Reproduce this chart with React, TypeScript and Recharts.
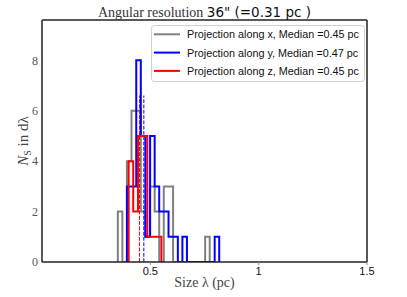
import React from 'react';
import { LineChart, Line, XAxis, YAxis, Legend } from 'recharts';

// ---- data ----
const SERIES_NAMES = [
  'Projection along x, Median =0.45 pc',
  'Projection along y, Median =0.47 pc',
  'Projection along z, Median =0.45 pc',
];
const SERIES_COLORS = ['#808080', '#0000ff', '#ff0000'];

// bin edges (pc) and counts for each step histogram
const GRAY_EDGES = [0.350, 0.371, 0.392, 0.413, 0.435, 0.456, 0.477, 0.498, 0.520, 0.541, 0.562, 0.583, 0.605, 0.626, 0.647, 0.668, 0.689, 0.711, 0.732, 0.753, 0.774];
const GRAY_COUNTS = [2, 0, 4, 6, 6, 2, 1, 3, 2, 0, 3, 3, 0, 0, 0, 0, 0, 0, 0, 1];
const BLUE_EDGES = [0.392, 0.413, 0.435, 0.456, 0.477, 0.499, 0.520, 0.541, 0.563, 0.584, 0.605, 0.627, 0.648, 0.669, 0.690, 0.712, 0.733, 0.754, 0.776, 0.797, 0.818];
const BLUE_COUNTS = [3, 3, 8, 5, 1, 5, 3, 2, 2, 1, 1, 0, 1, 0, 0, 0, 0, 0, 0, 1];
const RED_EDGES = [0.400, 0.421, 0.443, 0.465, 0.486, 0.508, 0.530, 0.551];
const RED_COUNTS = [4, 2, 5, 5, 1, 1, 1];

const MEDIANS = [0.45, 0.47, 0.45];
const MEDIAN_LINE_TOP = 6.6;

const X_DOMAIN = [0, 1.5];
const X_TICKS = [0.5, 1, 1.5];
const Y_DOMAIN = [0, 9.6];
const Y_TICKS = [0, 2, 4, 6, 8];

const TITLE_SERIF = 'Angular resolution ';
const TITLE_SANS = '36" (=0.31 pc )';
const X_LABEL = 'Size \u03bb (pc)';

// ---- helpers ----
function stepPoints(edges: number[], counts: number[]) {
  const pts = [{ x: edges[0], y: 0 }];
  counts.forEach((c, i) => pts.push({ x: edges[i], y: c }));
  const last = edges[edges.length - 1];
  pts.push({ x: last, y: counts[counts.length - 1] });
  pts.push({ x: last, y: 0 });
  return pts;
}

const HISTS = [
  stepPoints(GRAY_EDGES, GRAY_COUNTS),
  stepPoints(BLUE_EDGES, BLUE_COUNTS),
  stepPoints(RED_EDGES, RED_COUNTS),
];
const MEDIAN_DATA = MEDIANS.map((m) => [
  { x: m, y: 0 },
  { x: m, y: MEDIAN_LINE_TOP },
]);

const TitleLabel = () => (
  <text x={204.5} y={16.5} textAnchor="middle" fontSize={14}>
    <tspan fontFamily="Liberation Serif" fill="#333">{TITLE_SERIF}</tspan>
    <tspan fontFamily="DejaVu Sans" fontSize={13.5} fill="#111">{TITLE_SANS}</tspan>
  </text>
);

const XLabel = () => (
  <text x={204.5} y={287} textAnchor="middle" fontFamily="Liberation Serif" fontSize={14} fill="#444">
    {X_LABEL}
  </text>
);

const YLabel = () => (
  <text transform="rotate(-90)" x={-141} y={28} textAnchor="middle" fontFamily="Liberation Serif" fontSize={15} fill="#444">
    <tspan fontStyle="italic">N</tspan>
    <tspan fontSize={10} dy={3}>S</tspan>
    <tspan dy={-3}> in d{'\u03bb'}</tspan>
  </text>
);

const renderLegend = (props: any) => {
  const items = (props.payload || []).filter((e: any) => e.type !== 'none' && String(e.value).startsWith('Projection'));
  return (
    <svg width={214} height={57} style={{ display: 'block' }}>
      <rect x={0.5} y={0.5} width={213} height={56} rx={3} ry={3} fill="#fff" fillOpacity={0.85} stroke="#d0d0d0" />
      {items.map((e: any, i: number) => (
        <g key={i}>
          <line x1={3} x2={29} y1={9.3 + i * 18.3} y2={9.3 + i * 18.3} stroke={e.color} strokeWidth={2} />
          <text x={36} y={9.3 + i * 18.3} dominantBaseline="central" fontFamily="Liberation Sans" fontSize={10.8} fill="#111">
            {e.value}
          </text>
        </g>
      ))}
    </svg>
  );
};

export default function App() {
  return (
    <div style={{ position: 'absolute', left: 0, top: 0, width: 407, height: 297, background: '#fff' }}>
      <LineChart width={407} height={297} margin={{ top: 19, right: 39, bottom: 0, left: 41 }}>
        <XAxis
          type="number"
          dataKey="x"
          domain={X_DOMAIN}
          ticks={X_TICKS}
          allowDataOverflow
          height={35}
          tickSize={3}
          tickMargin={2}
          tick={{ fontFamily: 'Liberation Sans', fontSize: 11, fill: '#111' }}
          tickLine={{ stroke: '#888' }}
          axisLine={{ stroke: '#222', strokeWidth: 1.5 }}
          label={<XLabel />}
        />
        <XAxis
          xAxisId="top"
          orientation="top"
          type="number"
          dataKey="x"
          domain={X_DOMAIN}
          allowDataOverflow
          height={1}
          tick={false}
          tickLine={false}
          axisLine={{ stroke: '#222', strokeWidth: 1.5 }}
          label={<TitleLabel />}
        />
        <YAxis
          type="number"
          domain={Y_DOMAIN}
          ticks={Y_TICKS}
          allowDataOverflow
          width={1}
          tickSize={0}
          tickMargin={4}
          tick={{ fontFamily: 'Liberation Serif', fontSize: 12, fill: '#555' }}
          axisLine={{ stroke: '#222', strokeWidth: 1.5 }}
          label={<YLabel />}
        />
        <YAxis
          yAxisId="right"
          orientation="right"
          type="number"
          domain={Y_DOMAIN}
          allowDataOverflow
          width={1}
          tick={false}
          tickLine={false}
          axisLine={{ stroke: '#222', strokeWidth: 1.5 }}
        />
        {HISTS.map((d, i) => [
          <Line
            key={`h${i}`}
            data={d}
            dataKey="y"
            name={SERIES_NAMES[i]}
            type="stepAfter"
            stroke={SERIES_COLORS[i]}
            strokeWidth={2}
            dot={false}
            activeDot={false}
            isAnimationActive={false}
          />,
          <Line
            key={`m${i}`}
            data={MEDIAN_DATA[i]}
            dataKey="y"
            name={`median${i}`}
            legendType="none"
            type="linear"
            stroke={SERIES_COLORS[i]}
            strokeWidth={1}
            strokeDasharray="3.7 1.6"
            dot={false}
            activeDot={false}
            isAnimationActive={false}
          />,
        ])}
        <Legend
          layout="vertical"
          align="center"
          verticalAlign="middle"
          content={renderLegend}
          wrapperStyle={{ left: 151, top: 25, width: 214, height: 57 }}
        />
      </LineChart>
    </div>
  );
}
